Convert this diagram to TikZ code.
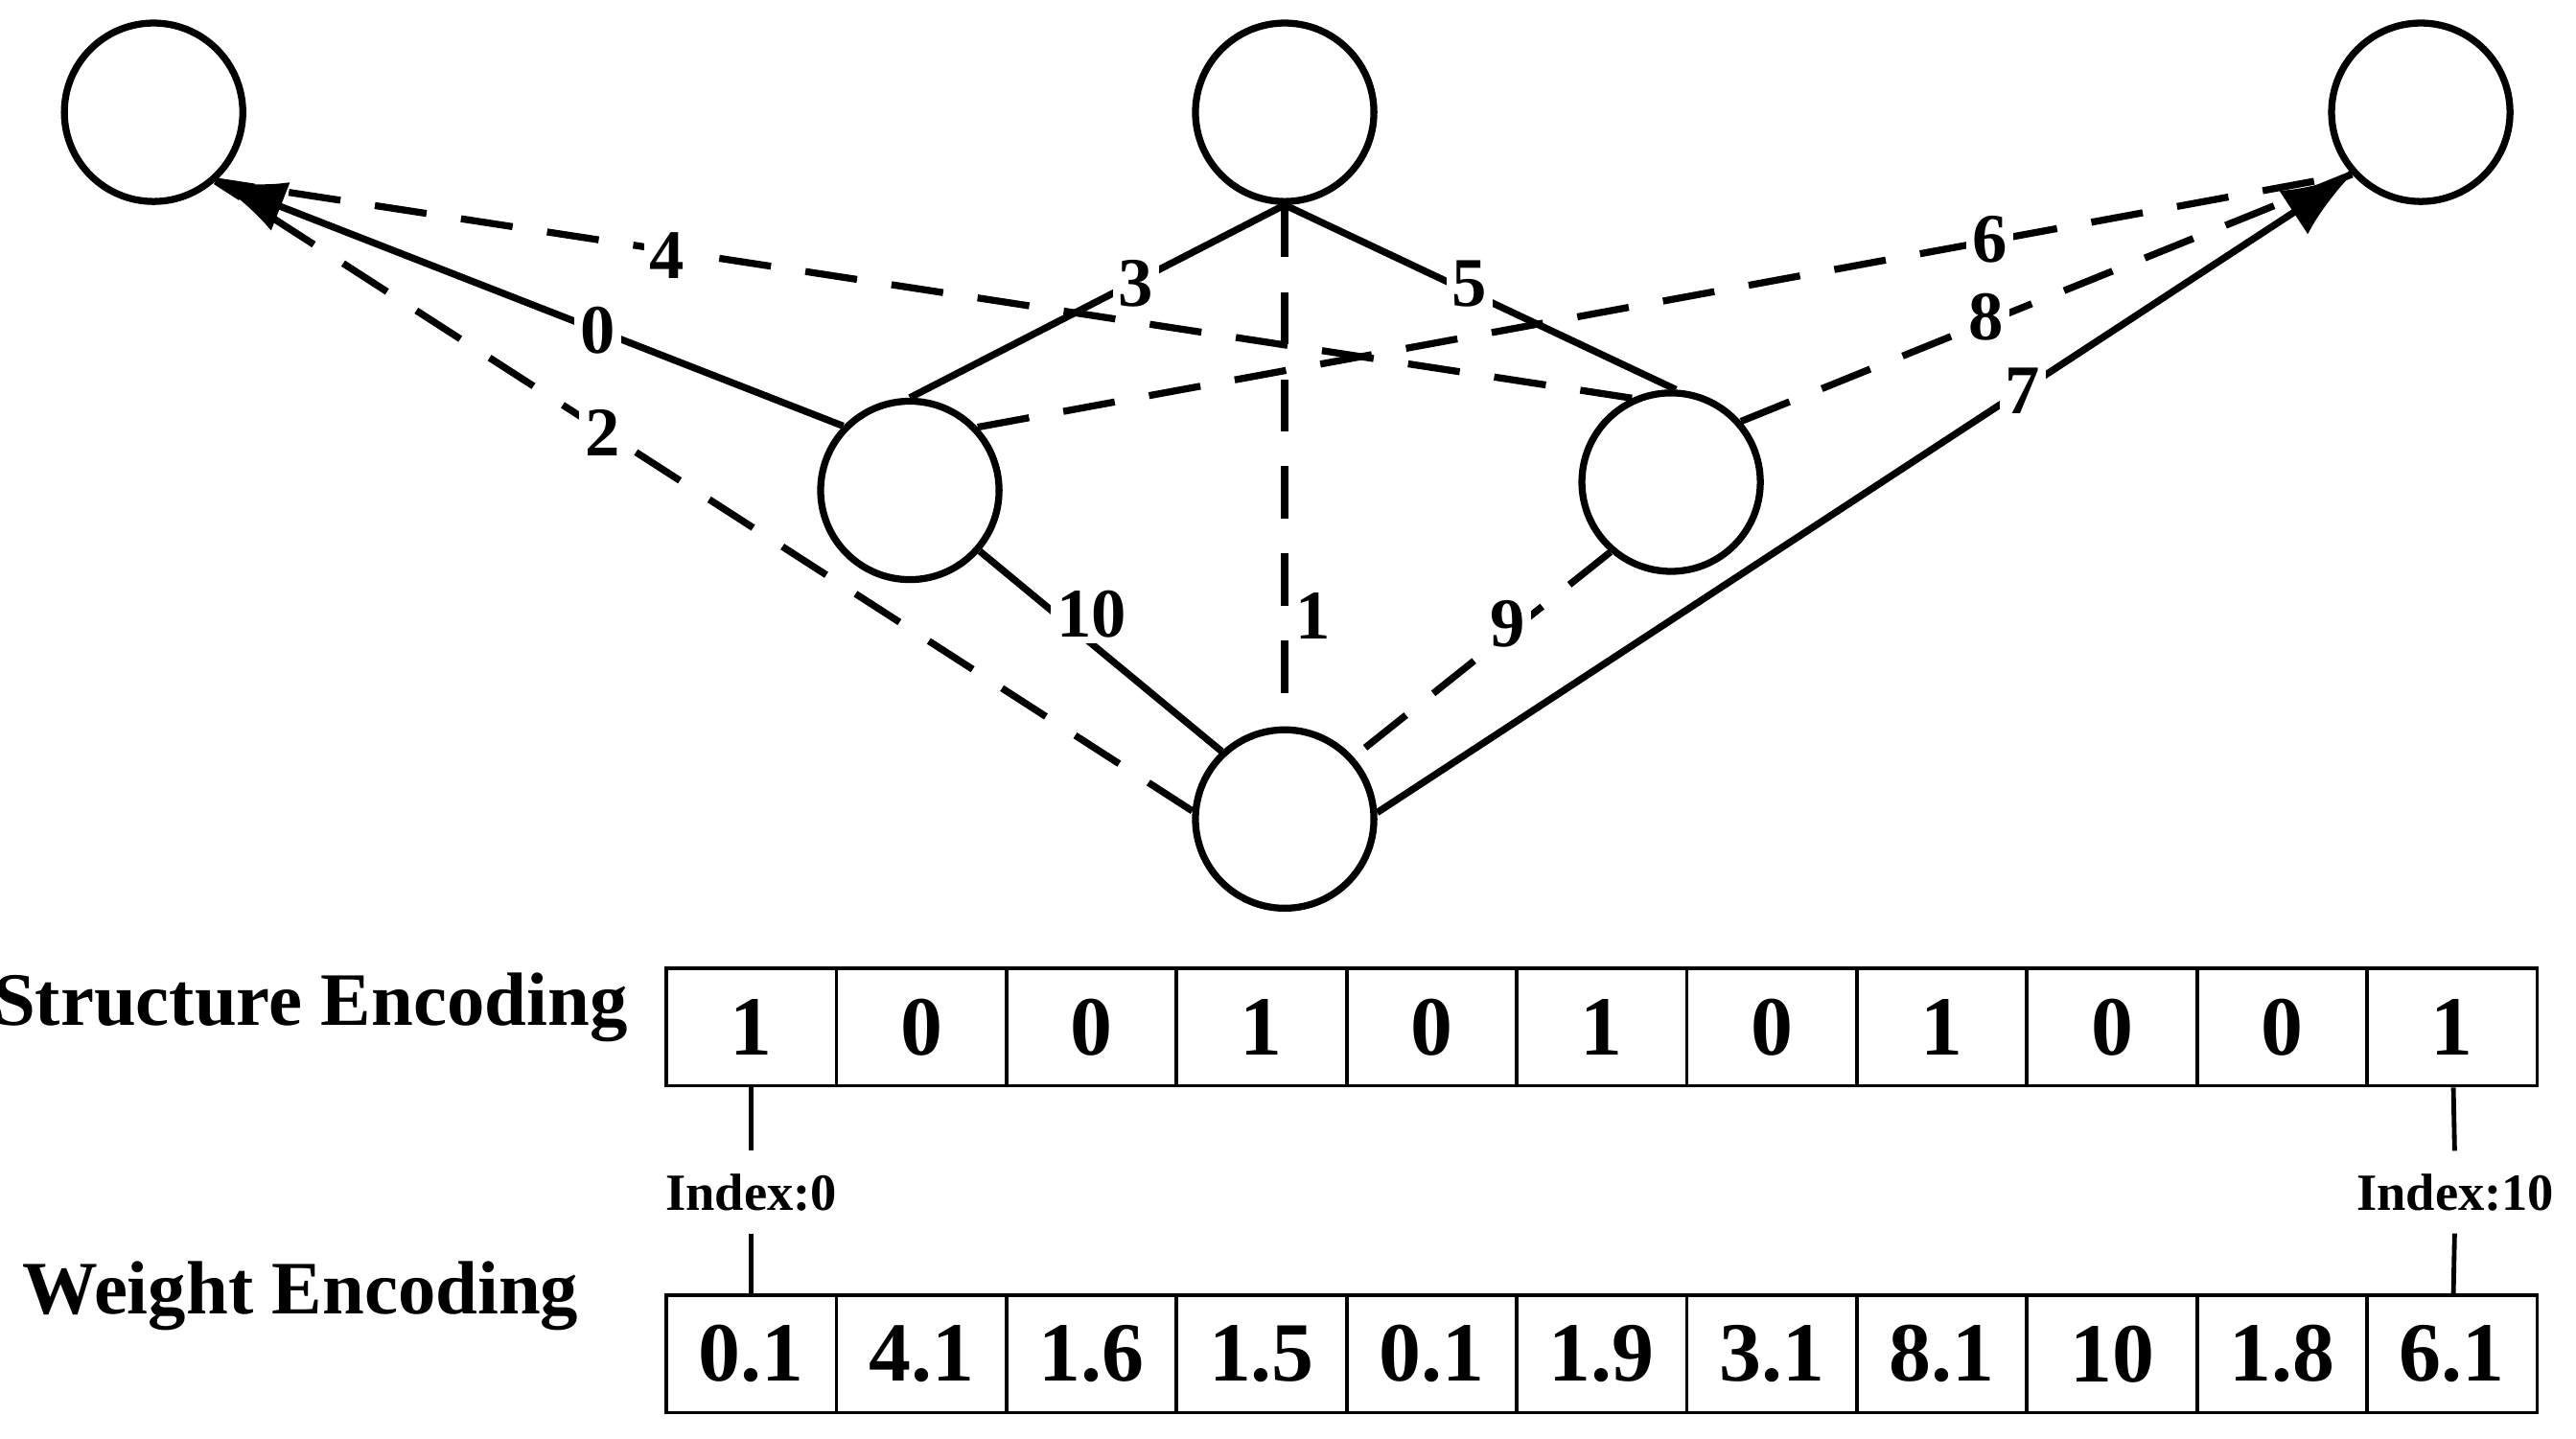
\documentclass[tikz,border=0pt]{standalone}
\usepackage{fontspec}
\setmainfont{Liberation Serif}
\usetikzlibrary{arrows.meta}
\begin{document}
\begin{tikzpicture}[x=0.01cm,y=-0.01cm,line width=1.2pt,
    vertex/.style={circle,draw,minimum size=1.08cm,inner sep=0pt},
    lbl/.style={font=\bfseries\fontsize{12}{12}\selectfont,inner sep=1pt,fill=white},
    cell/.style={draw,line width=0.6pt,minimum width=1.03cm,minimum height=0.71cm,inner sep=0pt,font=\bfseries\fontsize{14.5}{14.5}\selectfont},
    dashedge/.style={dash pattern=on 9pt off 6pt},
    tip/.style={-{Latex[length=12pt,width=9pt]}}]
    \useasboundingbox (0,0) rectangle (1560,871);
    % Draw the vertices
    \node[vertex] (A) at (93,68) {};
    \node[vertex] (B) at (778,68) {};
    \node[vertex] (C) at (1466,68) {};
    \node[vertex] (D) at (551,297) {};
    \node[vertex] (E) at (1012,292) {};
    \node[vertex] (F) at (778,496) {};
    % Draw the edges
    \draw[dashedge] (E.115) -- (A.-48);
    \draw[dashedge] (F.175) -- (A.-48);
    \draw[tip] (D.136) -- (A.-48);
    \draw (B.south) -- (D.north);
    \draw (B.south) -- (E.87);
    \draw[dashedge] (B.south) -- (F.north);
    \draw[dashedge] (D.43) -- (C.-138);
    \draw[dashedge] (E.41) -- (C.-138);
    \draw[tip] (F.4) -- (C.-138);
    \draw (D.-41) -- (F.133);
    \draw[dashedge] (E.-131) -- (F.42);
    % Edge labels
    \node[lbl] (l0) at (362,200) {0};
    \node[lbl] (l4) at (404,155) {4};
    \node[lbl] (l2) at (365,262) {2};
    \node[lbl] (l3) at (688,172) {3};
    \node[lbl] (l5) at (890,172) {5};
    \node[lbl] (l1) at (795,373) {1};
    \node[lbl] (l6) at (1205,145) {6};
    \node[lbl] (l8) at (1203,192) {8};
    \node[lbl] (l7) at (1225,237) {7};
    \node[lbl] (l10) at (661,372) {10};
    \node[lbl] (l9) at (913,378) {9};

    % Draw the encodings
    \node[font=\bfseries\fontsize{13}{13}\selectfont] (stxt) at (188,610) {Structure Encoding};
    \node[font=\bfseries\fontsize{13}{13}\selectfont] (wtxt) at (182,785) {Weight Encoding};
    \foreach \s [count=\i from 0] in {1,0,0,1,0,1,0,1,0,0,1}
        \node[cell] (s\i) at (455+103*\i,622) {\s};
    \foreach \w [count=\i from 0] in {0.1,4.1,1.6,1.5,0.1,1.9,3.1,8.1,10,1.8,6.1}
        \node[cell] (w\i) at (455+103*\i,820) {\w};
    % Index markers
    \node[font=\bfseries\fontsize{9}{9}\selectfont] (i0) at (455,722) {Index:0};
    \node[font=\bfseries\fontsize{9}{9}\selectfont] (i10) at (1487,722) {Index:10};
    \draw[line width=0.8pt] (s0) -- (i0) -- (w0);
    \draw[line width=0.8pt] (s10) -- (i10) -- (w10);
\end{tikzpicture}
\end{document}
